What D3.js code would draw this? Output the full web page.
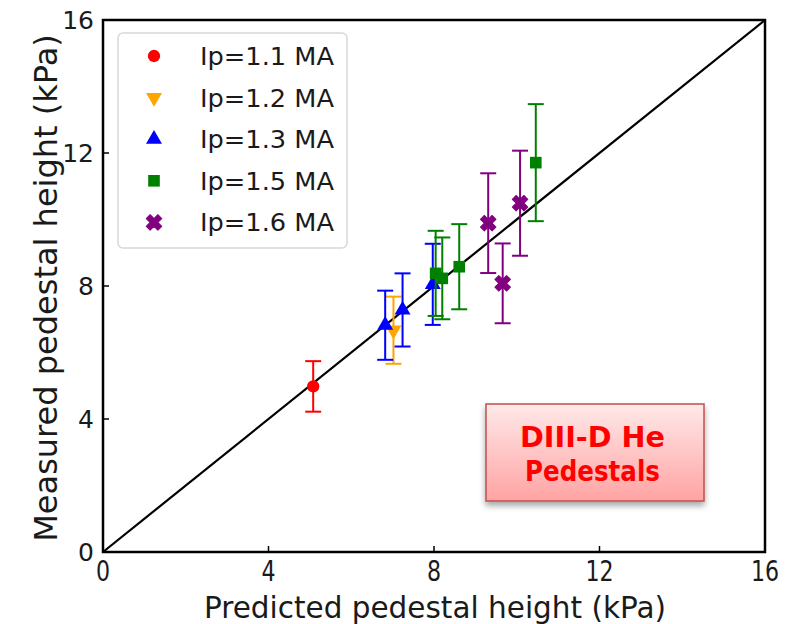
<!DOCTYPE html>
<html>
<head>
<meta charset="utf-8">
<script src="https://cdn.jsdelivr.net/npm/d3@7"></script>
<style>
  body { margin: 0; background: #fff; }
  svg text { font-family: "DejaVu Sans", sans-serif; fill: #1a1a1a; }
</style>
</head>
<body>
<svg id="chart" width="803" height="624"></svg>
<script>
// values
const labels = ["Ip=1.1 MA", "Ip=1.2 MA", "Ip=1.3 MA", "Ip=1.5 MA", "Ip=1.6 MA"];
const predicted = [[5.08], [7.02], [6.82, 7.24, 7.97], [8.04, 8.2, 8.61, 10.46], [9.31, 9.66, 10.08]];
const measured = [[4.98], [6.67], [6.82, 7.28, 8.05], [8.38, 8.23, 8.58, 11.71], [9.89, 8.08, 10.49]];
const errors = [[0.76], [1.01], [1.04, 1.10, 1.22], [1.28, 1.23, 1.28, 1.76], [1.5, 1.2, 1.58]];
const ticks = [0, 4, 8, 12, 16];
const parity = [0, 16];

const colors = ["#ff0000", "#ffa500", "#0000ff", "#008000", "#800080"];
const shapes = ["circle", "down", "up", "square", "x"];

var margin = { top: 20, right: 38, bottom: 72, left: 103 };
var width = 803, height = 624;
var svg = d3.select("#chart");

var xScale = d3.scaleLinear().domain([0, 16]).range([margin.left, width - margin.right]);
var yScale = d3.scaleLinear().domain([0, 16]).range([height - margin.bottom, margin.top]);

function marker(shape) {
    var sym = d3.symbol();
    if (shape == "circle") return sym.type(d3.symbolCircle).size(120)();
    if (shape == "square") return sym.type(d3.symbolSquare).size(135)();
    if (shape == "x") return sym.type(d3.symbolCross).size(150)();
    return sym.type(d3.symbolTriangle).size(110)();
}
function markerRotate(shape) {
    if (shape == "down") return " rotate(180)";
    if (shape == "x") return " rotate(45)";
    return "";
}

// parity line
svg.append("line")
    .attr("x1", xScale(parity[0])).attr("y1", yScale(parity[0]))
    .attr("x2", xScale(parity[1])).attr("y2", yScale(parity[1]))
    .attr("stroke", "#000").attr("stroke-width", 2.2);

// error bars + markers
labels.forEach((lab, s) => {
    var g = svg.append("g").attr("class", "series");
    var pts = predicted[s].map((x, i) => ({ x: x, y: measured[s][i], e: errors[s][i] }));
    var cap = 8;
    pts.forEach(d => {
        var cx = xScale(d.x);
        g.append("line")
            .attr("x1", cx).attr("x2", cx)
            .attr("y1", yScale(d.y - d.e)).attr("y2", yScale(d.y + d.e))
            .attr("stroke", colors[s]).attr("stroke-width", 2);
        [d.y - d.e, d.y + d.e].forEach(v => {
            g.append("line")
                .attr("x1", cx - cap).attr("x2", cx + cap)
                .attr("y1", yScale(v)).attr("y2", yScale(v))
                .attr("stroke", colors[s]).attr("stroke-width", 2);
        });
    });
    g.selectAll("path")
        .data(pts)
        .enter().append("path")
        .attr("d", marker(shapes[s]))
        .attr("transform", d => "translate(" + [xScale(d.x), yScale(d.y)] + ")" + markerRotate(shapes[s]))
        .attr("fill", colors[s])
        .attr("stroke", colors[s]).attr("stroke-width", shapes[s] == "x" ? 1 : 0)
        .attr("stroke-linejoin", "round");
});

// frame
svg.append("rect")
    .attr("x", margin.left).attr("y", margin.top)
    .attr("width", xScale(16) - xScale(0)).attr("height", yScale(0) - yScale(16))
    .attr("fill", "none").attr("stroke", "#000").attr("stroke-width", 2.5);

// ticks (inward) and labels
ticks.forEach(t => {
    svg.append("line")
        .attr("x1", xScale(t)).attr("x2", xScale(t))
        .attr("y1", yScale(0)).attr("y2", yScale(0) - 6)
        .attr("stroke", "#000").attr("stroke-width", 1.5);
    svg.append("line")
        .attr("x1", xScale(0)).attr("x2", xScale(0) + 6)
        .attr("y1", yScale(t)).attr("y2", yScale(t))
        .attr("stroke", "#000").attr("stroke-width", 1.5);
    svg.append("text")
        .attr("x", xScale(t)).attr("y", yScale(0) + 29)
        .attr("text-anchor", "middle")
        .attr("font-size", 26)
        .attr("transform", "translate(" + xScale(t) + "," + (yScale(0) + 29) + ") scale(0.85,1.08) translate(" + (-xScale(t)) + "," + (-(yScale(0) + 29)) + ")")
        .text(t);
    svg.append("text")
        .attr("x", xScale(0) - 9).attr("y", yScale(t) + 9)
        .attr("text-anchor", "end")
        .attr("font-size", 25)
        .text(t);
});

// axis titles
svg.append("text")
    .attr("x", 435).attr("y", 618)
    .attr("text-anchor", "middle")
    .attr("font-size", 29.5)
    .text("Predicted pedestal height (kPa)");
svg.append("text")
    .attr("transform", "translate(57,288) rotate(-90)")
    .attr("text-anchor", "middle")
    .attr("font-size", 32)
    .text("Measured pedestal height (kPa)");

// legend
var legend = svg.append("g").attr("class", "legend");
legend.append("rect")
    .attr("x", 118).attr("y", 33).attr("width", 229).attr("height", 215)
    .attr("rx", 5).attr("fill", "#fff").attr("fill-opacity", 0.85)
    .attr("stroke", "#d8d8d8").attr("stroke-width", 1.5);
labels.forEach((lab, s) => {
    var cy = 56 + s * 41.6;
    legend.append("path")
        .attr("d", marker(shapes[s]))
        .attr("transform", "translate(" + [154, cy] + ")" + markerRotate(shapes[s]))
        .attr("fill", colors[s])
        .attr("stroke", colors[s]).attr("stroke-width", shapes[s] == "x" ? 1 : 0)
        .attr("stroke-linejoin", "round");
    legend.append("text")
        .attr("x", 200).attr("y", cy + 9)
        .attr("font-size", 25)
        .attr("textLength", 134).attr("lengthAdjust", "spacingAndGlyphs")
        .text(lab);
});

// annotation box
var defs = svg.append("defs");
var grad = defs.append("linearGradient").attr("id", "boxgrad")
    .attr("x1", 0).attr("y1", 0).attr("x2", 0).attr("y2", 1);
grad.append("stop").attr("offset", "0%").attr("stop-color", "#ffe9e9");
grad.append("stop").attr("offset", "100%").attr("stop-color", "#ffa3a3");
var shadow = defs.append("filter").attr("id", "shadow")
    .attr("x", "-10%").attr("y", "-10%").attr("width", "130%").attr("height", "140%");
shadow.append("feDropShadow").attr("dx", 0).attr("dy", 4).attr("stdDeviation", 3)
    .attr("flood-color", "#000").attr("flood-opacity", 0.35);

svg.append("rect")
    .attr("x", 486).attr("y", 404).attr("width", 218).attr("height", 97)
    .attr("fill", "url(#boxgrad)").attr("stroke", "#c0504d").attr("stroke-width", 1.5)
    .attr("filter", "url(#shadow)");
svg.append("text")
    .attr("x", 592.5).attr("y", 447)
    .attr("text-anchor", "middle")
    .attr("font-family", "'Liberation Sans', Arial, sans-serif")
    .attr("font-weight", "bold").attr("font-size", 29)
    .attr("textLength", 145).attr("lengthAdjust", "spacingAndGlyphs")
    .style("fill", "#ff0000")
    .text("DIII-D He");
svg.append("text")
    .attr("x", 592.5).attr("y", 481)
    .attr("text-anchor", "middle")
    .attr("font-family", "'Liberation Sans', Arial, sans-serif")
    .attr("font-weight", "bold").attr("font-size", 29)
    .attr("textLength", 135).attr("lengthAdjust", "spacingAndGlyphs")
    .style("fill", "#ff0000")
    .text("Pedestals");
</script>
</body>
</html>
